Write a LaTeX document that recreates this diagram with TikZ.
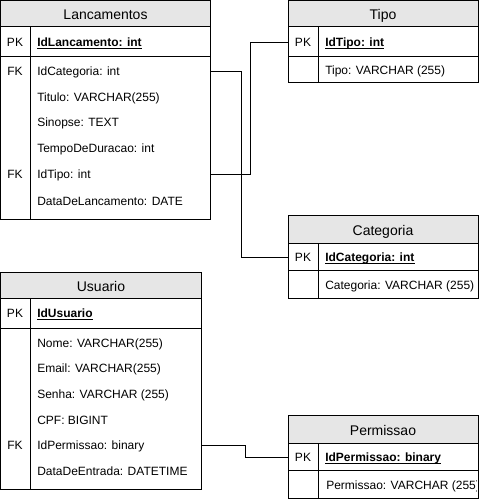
\documentclass[tikz,border=0pt]{standalone}
\usepackage{fontspec}
\setmainfont{Liberation Sans}
\definecolor{hdrgray}{HTML}{E6E6E6}
\begin{document}
\begin{tikzpicture}[x=0.75pt,y=-0.75pt,
  ln/.style={line width=0.75pt, draw=black},
  ttl/.style={font=\fontsize{10.5}{12}\selectfont, inner sep=0, text height=8pt, text depth=0.5pt},
  fld/.style={font=\fontsize{9}{11}\selectfont, anchor=west, inner sep=0, text height=7pt, text depth=0.5pt},
  pkf/.style={fld, font=\fontsize{9}{11}\selectfont\bfseries},
  keyl/.style={font=\fontsize{9}{11}\selectfont, inner sep=0, text height=7pt, text depth=0.5pt},
  ul/.style={line width=0.6pt},
  conn/.style={line width=0.75pt}]
\useasboundingbox (0,0) rectangle (479,501);

% ---------- Lancamentos ----------
\fill[hdrgray] (0.5,0.5) rectangle (210.5,26);
\draw[ln] (0.5,0.5) rectangle (210.5,219.5);
\draw[ln] (0.5,26) -- (210.5,26);
\draw[ln] (0.5,56) -- (210.5,56);
\draw[ln] (30,26) -- (30,219.5);
\coordinate (lancR) at (210.5,0);
\node[ttl] (lT) at (105.5,14) {Lancamentos};
\node[keyl] (lpkk) at (15,42) {PK};
\node[pkf] (lpk) at (37,42) {IdLancamento: int};
\draw[ul] ([yshift=-1.6pt]lpk.base west) -- ([yshift=-1.6pt]lpk.base east);
\node[keyl] (lfk1) at (15,71) {FK};
\node[fld] (lcat) at (37,71) {IdCategoria: int};
\node[fld] (ltit) at (37,97) {Titulo: VARCHAR(255)};
\node[fld] (lsin) at (37,122) {Sinopse: TEXT};
\node[fld] (ltem) at (37,148) {TempoDeDuracao: int};
\node[keyl] (lfk2) at (15,174) {FK};
\node[fld] (ltip) at (37,174) {IdTipo: int};
\node[fld] (ldat) at (37,201) {DataDeLancamento: DATE};

% ---------- Tipo ----------
\fill[hdrgray] (288,0.5) rectangle (478,26);
\draw[ln] (288,0.5) rectangle (478,82);
\draw[ln] (288,26) -- (478,26);
\draw[ln] (288,56) -- (478,56);
\draw[ln] (318,26) -- (318,82);
\coordinate (tipoL) at (288,0);
\node[ttl] (tT) at (383,14) {Tipo};
\node[keyl] (tpkk) at (303,42) {PK};
\node[pkf] (tpk) at (325,42) {IdTipo: int};
\draw[ul] ([yshift=-1.6pt]tpk.base west) -- ([yshift=-1.6pt]tpk.base east);
\node[fld] (tnom) at (325,70) {Tipo: VARCHAR (255)};

% ---------- Categoria ----------
\fill[hdrgray] (288,215) rectangle (478,243);
\draw[ln] (288,215) rectangle (478,298);
\draw[ln] (288,243) -- (478,243);
\draw[ln] (288,270) -- (478,270);
\draw[ln] (318,243) -- (318,298);
\coordinate (catL) at (288,0);
\node[ttl] (cT) at (383,230) {Categoria};
\node[keyl] (cpkk) at (303,257) {PK};
\node[pkf] (cpk) at (325,257) {IdCategoria: int};
\draw[ul] ([yshift=-1.6pt]cpk.base west) -- ([yshift=-1.6pt]cpk.base east);
\node[fld] (cnom) at (325,285) {Categoria: VARCHAR (255)};

% ---------- Usuario ----------
\fill[hdrgray] (0.5,272) rectangle (201,298);
\draw[ln] (0.5,272) rectangle (201,489);
\draw[ln] (0.5,298) -- (201,298);
\draw[ln] (0.5,328) -- (201,328);
\draw[ln] (30,298) -- (30,489);
\coordinate (usuR) at (201,0);
\node[ttl] (uT) at (101,286) {Usuario};
\node[keyl] (upkk) at (15,313) {PK};
\node[pkf] (upk) at (37,313) {IdUsuario};
\draw[ul] ([yshift=-1.6pt]upk.base west) -- ([yshift=-1.6pt]upk.base east);
\node[fld] (unom) at (37,343) {Nome: VARCHAR(255)};
\node[fld] (uema) at (37,368) {Email: VARCHAR(255)};
\node[fld] (usen) at (37,394) {Senha: VARCHAR (255)};
\node[fld] (ucpf) at (37,420) {CPF: BIGINT};
\node[keyl] (ufk) at (15,445) {FK};
\node[fld] (uper) at (37,445) {IdPermissao: binary};
\node[fld] (udat) at (37,471) {DataDeEntrada: DATETIME};

% ---------- Permissao ----------
\fill[hdrgray] (288,415) rectangle (478,443);
\draw[ln] (288,415) rectangle (478,498);
\draw[ln] (288,443) -- (478,443);
\draw[ln] (288,470) -- (478,470);
\draw[ln] (318,443) -- (318,498);
\coordinate (perL) at (288,0);
\node[ttl] (pT) at (383,430) {Permissao};
\node[keyl] (ppkk) at (303,457) {PK};
\node[pkf] (ppk) at (325,457) {IdPermissao: binary};
\draw[ul] ([yshift=-1.6pt]ppk.base west) -- ([yshift=-1.6pt]ppk.base east);
\begin{scope}
  \clip (318,470) rectangle (476.5,498);
  \node[fld] (pnom) at (326,485) {Permissao: VARCHAR (255)};
\end{scope}

% ---------- connectors ----------
\draw[conn] (lancR |- lcat) -- ++(31,0) |- (catL |- cpk);
\draw[conn] (lancR |- ltip) -- ++(40,0) |- (tipoL |- tpk);
\draw[conn] (usuR |- uper) -- ++(44,0) |- (perL |- ppk);
\end{tikzpicture}
\end{document}
